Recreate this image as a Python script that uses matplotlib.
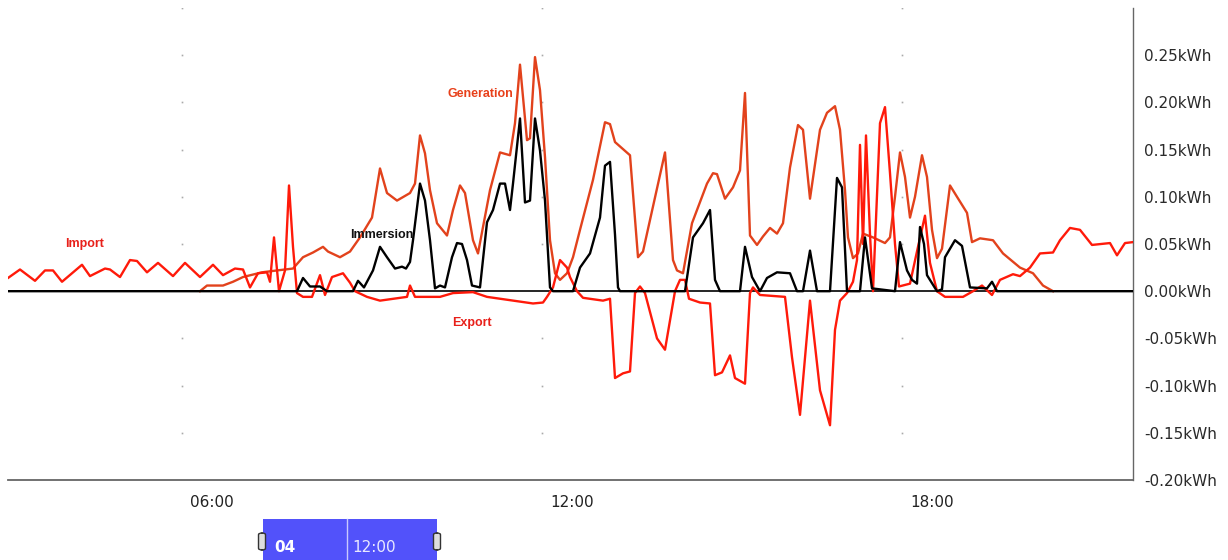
import matplotlib.pyplot as plt
from matplotlib.patches import Rectangle, FancyBboxPatch
import numpy as np

# grid flow: positive = import, negative = export (kWh per interval)
grid_t = ["02:36", "02:48", "03:03", "03:13", "03:21", "03:30", "03:50", "03:58", "04:13", "04:18",
          "04:28", "04:38", "04:45", "04:55", "05:06", "05:21", "05:33", "05:48", "06:01", "06:11",
          "06:23", "06:31", "06:38", "06:46", "06:55", "06:58", "07:02", "07:07", "07:13", "07:17",
          "07:21", "07:25", "07:31", "07:40", "07:48", "07:53", "08:00", "08:11", "08:18", "08:23",
          "08:35", "08:48", "09:15", "09:18", "09:23", "09:48", "10:01", "10:21", "10:35", "11:01",
          "11:21", "11:31", "11:35", "11:41", "11:48", "11:55", "11:58", "12:05", "12:11", "12:31",
          "12:38", "12:43", "12:51", "12:58", "13:03", "13:08", "13:13", "13:25", "13:33", "13:43",
          "13:48", "13:53", "13:57", "14:08", "14:18", "14:23", "14:30", "14:38", "14:43", "14:53",
          "14:58", "15:01", "15:08", "15:33", "15:40", "15:48", "15:58", "16:08", "16:18", "16:23",
          "16:28", "16:35", "16:41", "16:45", "16:48", "16:51", "16:54", "16:58", "17:01", "17:08",
          "17:13", "17:18", "17:23", "17:27", "17:38", "17:46", "17:53", "17:58", "18:05", "18:13",
          "18:31", "18:41", "18:50", "19:00", "19:08", "19:21", "19:28", "19:38", "19:48", "20:01",
          "20:08", "20:18", "20:28", "20:40", "20:58", "21:05", "21:13", "21:21"]
grid_v = [0.014, 0.023, 0.011, 0.022, 0.022, 0.010, 0.028, 0.016, 0.024, 0.023,
          0.015, 0.033, 0.032, 0.020, 0.030, 0.016, 0.030, 0.015, 0.028, 0.017,
          0.024, 0.023, 0.004, 0.019, 0.020, 0.010, 0.057, 0.000, 0.022, 0.112,
          0.047, -0.002, -0.006, -0.006, 0.017, -0.004, 0.015, 0.019, 0.009, 0.000,
          -0.006, -0.010, -0.006, 0.006, -0.006, -0.006, -0.002, -0.001, -0.006, -0.010,
          -0.013, -0.012, -0.006, 0.004, 0.033, 0.025, 0.015, 0.000, -0.007, -0.010,
          -0.008, -0.092, -0.087, -0.085, -0.002, 0.005, -0.002, -0.050, -0.062, 0.000,
          0.012, 0.012, -0.008, -0.012, -0.013, -0.089, -0.086, -0.068, -0.092, -0.098,
          -0.002, 0.004, -0.004, -0.006, -0.070, -0.131, -0.010, -0.105, -0.142, -0.041,
          -0.010, -0.002, 0.010, 0.033, 0.155, 0.050, 0.165, 0.060, 0.000, 0.178,
          0.195, 0.125, 0.050, 0.005, 0.008, 0.047, 0.080, 0.030, 0.000, -0.006,
          -0.006, 0.000, 0.006, -0.004, 0.012, 0.018, 0.016, 0.025, 0.040, 0.041,
          0.054, 0.067, 0.065, 0.049, 0.051, 0.038, 0.051, 0.052]

gen_t = ["05:48", "05:55", "06:11", "06:21", "06:31", "06:50", "07:05", "07:21", "07:31", "07:41",
         "07:51", "07:56", "08:08", "08:18", "08:28", "08:40", "08:48", "08:55", "09:05", "09:18",
         "09:23", "09:28", "09:33", "09:38", "09:45", "09:55", "10:01", "10:08", "10:13", "10:21",
         "10:26", "10:31", "10:38", "10:48", "10:58", "11:03", "11:08", "11:15", "11:18", "11:23",
         "11:28", "11:33", "11:38", "11:43", "11:48", "11:55", "12:01", "12:08", "12:21", "12:33",
         "12:38", "12:43", "12:58", "13:06", "13:11", "13:33", "13:41", "13:45", "13:51", "14:00",
         "14:15", "14:21", "14:25", "14:33", "14:41", "14:48", "14:53", "14:58", "15:05", "15:11",
         "15:18", "15:25", "15:31", "15:38", "15:46", "15:51", "15:58", "16:08", "16:15", "16:23",
         "16:28", "16:33", "16:36", "16:41", "16:46", "16:51", "17:01", "17:13", "17:18", "17:23",
         "17:28", "17:33", "17:38", "17:43", "17:50", "17:55", "18:00", "18:05", "18:10", "18:18",
         "18:25", "18:35", "18:40", "18:48", "19:01", "19:11", "19:28", "19:41", "19:51", "20:01"]
gen_v = [0.000, 0.006, 0.006, 0.010, 0.015, 0.020, 0.022, 0.024, 0.036, 0.041,
         0.047, 0.042, 0.036, 0.042, 0.057, 0.078, 0.130, 0.104, 0.096, 0.104,
         0.114, 0.165, 0.146, 0.107, 0.072, 0.059, 0.086, 0.112, 0.104, 0.054,
         0.040, 0.068, 0.107, 0.147, 0.144, 0.178, 0.240, 0.160, 0.162, 0.248,
         0.213, 0.142, 0.054, 0.019, 0.012, 0.019, 0.036, 0.065, 0.118, 0.179,
         0.177, 0.158, 0.144, 0.036, 0.042, 0.147, 0.033, 0.022, 0.019, 0.072,
         0.114, 0.125, 0.124, 0.098, 0.110, 0.128, 0.210, 0.059, 0.049, 0.058,
         0.067, 0.061, 0.072, 0.131, 0.176, 0.171, 0.098, 0.171, 0.189, 0.196,
         0.171, 0.107, 0.057, 0.035, 0.040, 0.061, 0.057, 0.051, 0.057, 0.100,
         0.147, 0.121, 0.078, 0.100, 0.144, 0.121, 0.065, 0.035, 0.045, 0.112,
         0.100, 0.083, 0.052, 0.056, 0.054, 0.040, 0.025, 0.019, 0.006, 0.000]

imm_t = ["02:36", "07:25", "07:31", "07:38", "07:48", "07:55", "08:21", "08:26", "08:32", "08:41",
         "08:48", "08:55", "09:03", "09:10", "09:14", "09:18", "09:21", "09:28", "09:33", "09:38",
         "09:43", "09:48", "09:53", "10:00", "10:05", "10:10", "10:15", "10:20", "10:28", "10:35",
         "10:41", "10:48", "10:53", "10:58", "11:01", "11:08", "11:13", "11:18", "11:23", "11:28",
         "11:33", "11:38", "11:41", "12:01", "12:08", "12:18", "12:28", "12:33", "12:38", "12:43",
         "12:46", "12:48", "13:53", "14:01", "14:11", "14:18", "14:23", "14:28", "14:48", "14:53",
         "15:00", "15:08", "15:15", "15:25", "15:38", "15:45", "15:51", "15:58", "16:05", "16:18",
         "16:25", "16:30", "16:35", "16:48", "16:53", "17:00", "17:23", "17:28", "17:35", "17:40",
         "17:45", "17:48", "17:52", "17:55", "18:05", "18:10", "18:13", "18:23", "18:30", "18:38",
         "18:55", "19:00", "19:05", "21:21"]
imm_v = [0.000, 0.000, 0.014, 0.005, 0.005, 0.000, 0.000, 0.011, 0.004, 0.022,
         0.047, 0.036, 0.024, 0.026, 0.024, 0.031, 0.054, 0.114, 0.096, 0.054,
         0.003, 0.006, 0.004, 0.036, 0.051, 0.050, 0.033, 0.006, 0.004, 0.073,
         0.086, 0.114, 0.114, 0.086, 0.114, 0.183, 0.094, 0.096, 0.183, 0.149,
         0.096, 0.004, 0.000, 0.000, 0.025, 0.040, 0.078, 0.133, 0.137, 0.060,
         0.004, 0.000, 0.000, 0.057, 0.072, 0.086, 0.012, 0.000, 0.000, 0.047,
         0.015, 0.000, 0.014, 0.020, 0.019, 0.000, 0.000, 0.043, 0.000, 0.000,
         0.120, 0.110, 0.000, 0.000, 0.057, 0.003, 0.000, 0.052, 0.022, 0.012,
         0.008, 0.068, 0.050, 0.017, 0.000, 0.002, 0.036, 0.054, 0.048, 0.004,
         0.003, 0.010, 0.000, 0.000]

y_ticks = [-0.20, -0.15, -0.10, -0.05, 0.00, 0.05, 0.10, 0.15, 0.20, 0.25]
x_ticks = ["06:00", "12:00", "18:00"]


def to_min(s):
    return int(s[:2]) * 60 + int(s[3:])


W, H = 1228, 560
fig = plt.figure(figsize=(W / 100, H / 100), dpi=100)
ax = fig.add_axes([8 / W, 1 - 480 / H, (1133 - 8) / W, (480 - 8) / H])

gen_col = '#e2421c'
grid_col = '#ff1a0a'

ax.plot([to_min(t) for t in gen_t], gen_v, color=gen_col, lw=1.7, zorder=3)
ax.plot([to_min(t) for t in grid_t], grid_v, color=grid_col, lw=1.7, zorder=4)
ax.plot([to_min(t) for t in imm_t], imm_v, color='black', lw=1.7, zorder=5)
ax.axhline(0, color='black', lw=1.2, zorder=2)

ax.set_xlim(156, 1281)
ax.set_ylim(-0.20, 0.30)

# faint dot grid
for xm in [to_min(t) - 30 for t in x_ticks]:
    for yv in np.arange(-0.15, 0.31, 0.05):
        if abs(yv) > 1e-6:
            ax.plot(xm, yv, marker='s', ms=1.2, color='#aaaaaa', mec='none', zorder=1)

ax.set_xticks([to_min(t) for t in x_ticks])
ax.set_xticklabels(x_ticks, fontsize=11, color='#222222', family='DejaVu Sans')
ax.yaxis.tick_right()
ax.set_yticks(y_ticks)
ax.set_yticklabels([f"{v:.2f}kWh" for v in y_ticks], fontsize=11, color='#2a2a2a', family='DejaVu Sans')
ax.tick_params(axis='both', length=0)
ax.tick_params(axis='x', pad=11)
ax.tick_params(axis='y', pad=8)

for s in ['left', 'top']:
    ax.spines[s].set_visible(False)
ax.spines['right'].set_color('#666666')
ax.spines['bottom'].set_color('#666666')
ax.spines['bottom'].set_linewidth(1.3)
ax.spines['right'].set_linewidth(1.0)

lab = dict(fontsize=9, fontweight='bold', family='Liberation Sans', ha='center', va='center', zorder=6)
ax.text(to_min("03:53"), 0.050, "Import", color='#e8201a', **lab)
ax.text(to_min("10:28"), 0.209, "Generation", color='#e8401a', **lab)
ax.text(to_min("08:50"), 0.060, "Immersion", color='#111111', **lab)
ax.text(to_min("10:20"), -0.034, "Export", color='#e8201a', **lab)

# range navigator at the bottom
nav = Rectangle((263 / W, 0), (437 - 263) / W, 41 / H, transform=fig.transFigure,
                facecolor='#5252fa', edgecolor='none')
fig.add_artist(nav)
fig.add_artist(plt.Line2D([347 / W, 347 / W], [0, 41 / H], transform=fig.transFigure,
                          color='#c8c8ff', lw=1))
fig.text(274 / W, 1 - 547 / H, "04", color='white', fontsize=11, fontweight='bold',
         family='DejaVu Sans', va='center')
fig.text(352 / W, 1 - 547 / H, "12:00", color='#e8e8ff', fontsize=11,
         family='DejaVu Sans', va='center')
for hx in [262, 437]:
    fig.add_artist(FancyBboxPatch(((hx - 3.5) / W, 1 - 550 / H), 7 / W, 17 / H,
                                  boxstyle='round,pad=0,rounding_size=0.003',
                                  transform=fig.transFigure, facecolor='#dddddd',
                                  edgecolor='#333333', lw=1))

fig.savefig('out.png', dpi=100)
